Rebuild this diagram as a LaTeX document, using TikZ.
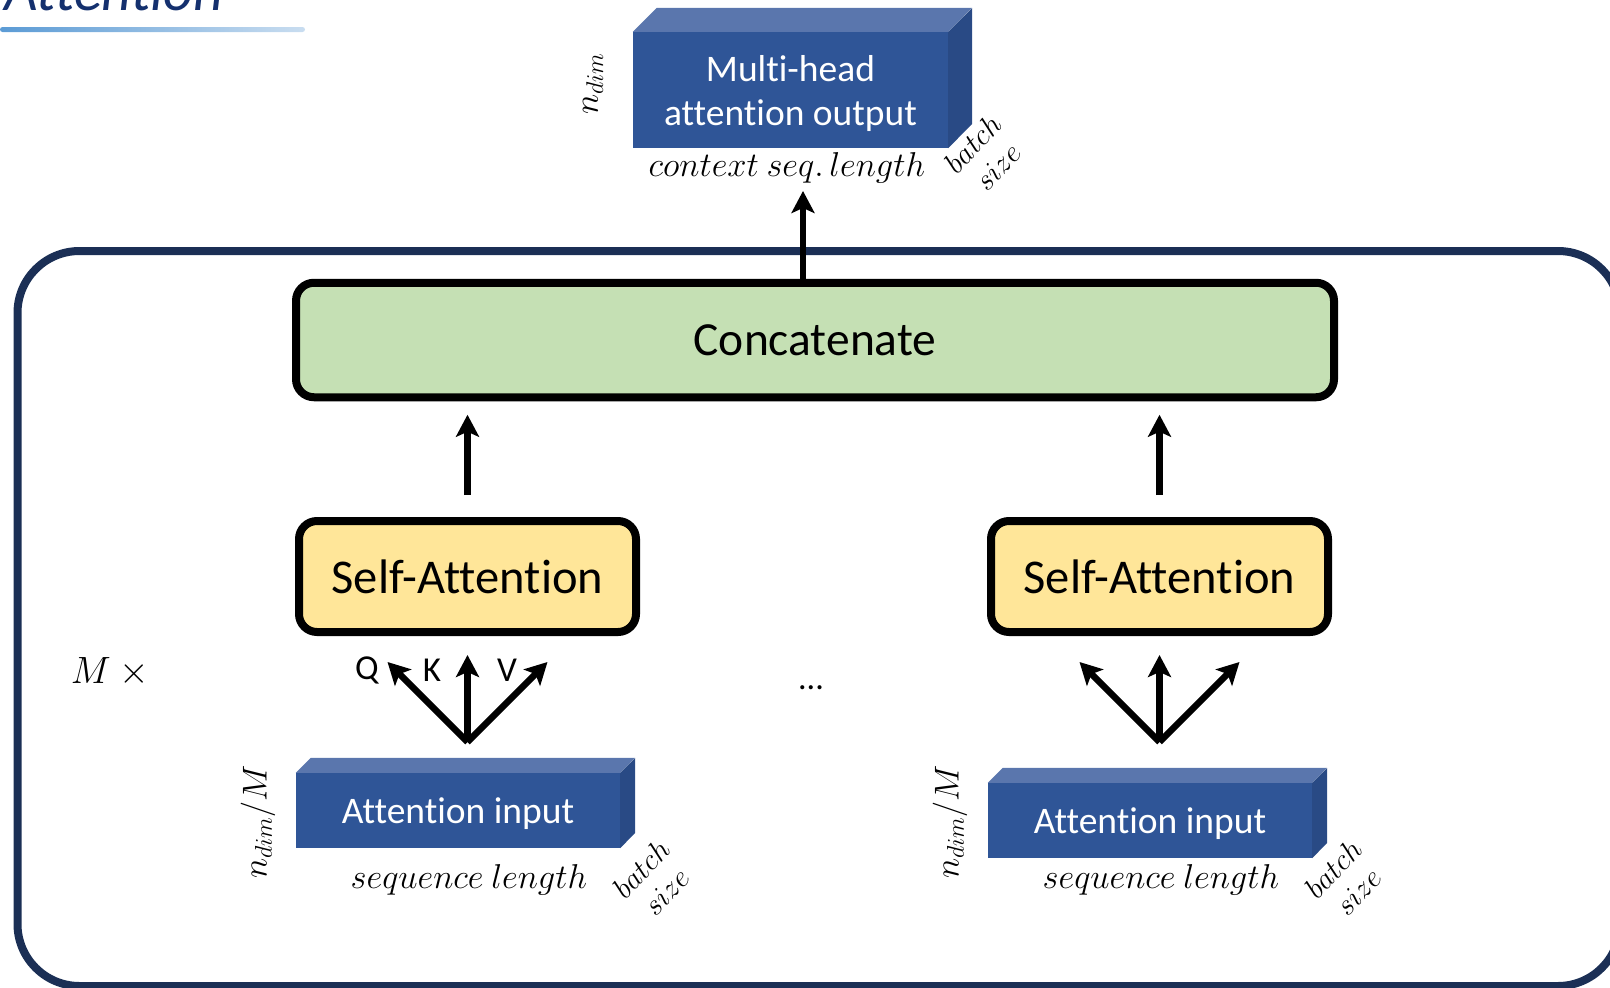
\documentclass[tikz,border=0pt]{standalone}
\usepackage{fix-cm}
\usepackage{fontspec}
\setmainfont{Carlito}[Ligatures=CommonOff]
\usetikzlibrary{positioning,arrows.meta}
\definecolor{framenavy}{HTML}{1B2F55}
\definecolor{titlenavy}{HTML}{14306E}
\definecolor{barblue}{HTML}{5B9BD5}
\definecolor{barlight}{HTML}{C9DDF0}
\definecolor{concatgreen}{HTML}{C5E0B4}
\definecolor{sayellow}{HTML}{FFE699}
\definecolor{blockfront}{HTML}{2F5597}
\definecolor{blocktop}{HTML}{5A76AD}
\definecolor{blockside}{HTML}{294A85}

\begin{document}
\begin{tikzpicture}[x=1pt,y=-1pt,
  bigarrow/.style={line width=6.5pt,-{Stealth[length=22pt,width=23pt,inset=5pt]}},
  roundbox/.style={draw=black,line width=8pt,rounded corners=18pt},
  block/.style={fill=blockfront,text=white,inner sep=0pt,text depth=0pt,align=center,font=\fontsize{37.5}{44}\selectfont},
  dimlabel/.style={font=\fontsize{34.5}{36}\selectfont},
  batchlabel/.style={font=\fontsize{30}{34}\selectfont,align=center,rotate=47,inner sep=1pt},
  qkv/.style={font=\fontsize{35}{36}\selectfont}]
\useasboundingbox (0,0) rectangle (1610,988);
% Heading, cut by the page edge, with its fading rule.
\node[anchor=base east,text=titlenavy,font=\fontsize{58}{60}\selectfont\itshape] (title) at (227,10) {Attention};
\shade[left color=barblue,right color=barlight,rounded corners=2.5pt] (0,27) rectangle (305,32);
% Frame around the M repeated heads.
\draw[draw=framenavy,line width=8pt,rounded corners=62pt] (17.5,251) rectangle (1620,986);
\node[font=\fontsize{38}{40}\selectfont] (heads) at (110,672) {$M\ \times$};
% Output tensor on top.
\node[block,minimum width=315pt,minimum height=116pt] (out) at (790.5,90) {Multi-head\\attention output};
\fill[blocktop] (out.north west) -- ++(24,-24) -- ++(315,0) -- (out.north east) -- cycle;
\fill[blockside] (out.north east) -- ++(24,-24) -- ++(0,116) -- (out.south east) -- cycle;
\node[dimlabel,rotate=90] (dimout) at (593,84) {$n_{dim}$};
\node[dimlabel] (ctx) at (787,168) {$context\ seq.\,length$};
\node[batchlabel] (batchout) at (985,155) {$batch$\\$size$};
% Concatenation of all heads.
\node[roundbox,fill=concatgreen,minimum width=1038pt,minimum height=114.5pt,font=\fontsize{47.5}{50}\selectfont] (concat) at (815,340) {Concatenate};
\coordinate (outtip) at (803,191);
\draw[bigarrow] (concat.north -| outtip) -- (outtip);
% One column per head: input tensor, Q/K/V fork, self-attention.
\foreach \i/\cx/\by in {1/467.5/810.5,2/1159.5/820.5}{
  \node[roundbox,fill=sayellow,minimum width=337pt,minimum height=111pt,font=\fontsize{48.5}{50}\selectfont] (sa\i) at (\cx,576.5) {Self-Attention};
  \draw[bigarrow,shorten <=22pt,shorten >=13.5pt] (sa\i.north) -- (sa\i.north |- concat.south);
  \node[block,minimum width=324pt,minimum height=75pt] (in\i) at (\cx-9.5,\by) {Attention input};
  \fill[blocktop] (in\i.north west) -- ++(15,-15) -- ++(324,0) -- (in\i.north east) -- cycle;
  \fill[blockside] (in\i.north east) -- ++(15,-15) -- ++(0,75) -- (in\i.south east) -- cycle;
  \node[dimlabel,rotate=90] (dimin\i) at (\cx-209.5,822) {$n_{dim}/M$};
  \node[dimlabel] (seq\i) at (\cx+1.5,880) {$sequence\ length$};
  \node[batchlabel] (batchin\i) at (\cx+186,880) {$batch$\\$size$};
  \coordinate (fork\i) at (\cx,742);
  \coordinate (q\i) at (\cx-80,662);
  \coordinate (v\i) at (\cx+80,662);
  \draw[bigarrow,shorten >=19pt] (fork\i) -- (sa\i.south);
  \draw[bigarrow] (fork\i) -- (q\i);
  \draw[bigarrow] (fork\i) -- (v\i);
}
\node[qkv] (qlab) at (367,670) {Q};
\node[qkv] (klab) at (432,670) {K};
\node[qkv] (vlab) at (507,670) {V};
\node[font=\fontsize{34}{36}\selectfont,anchor=base] (dots) at (811,689) {...};
\end{tikzpicture}
\end{document}
